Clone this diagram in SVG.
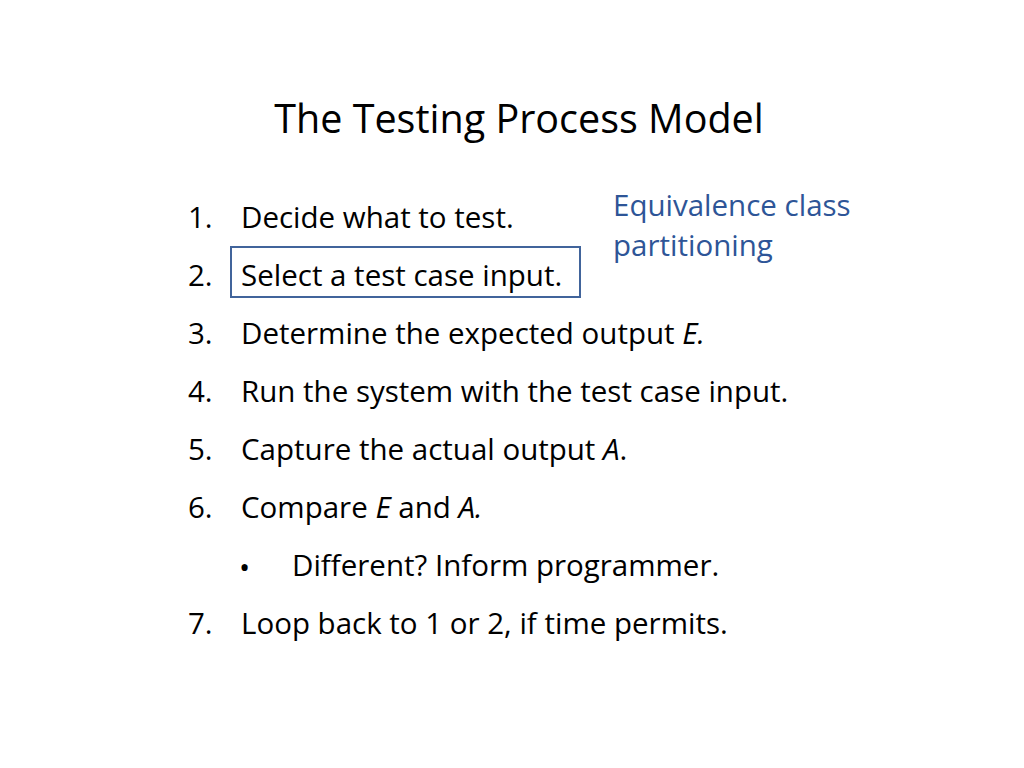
<svg xmlns="http://www.w3.org/2000/svg" width="1024" height="768" viewBox="0 0 1024 768">
<style>
text{font-family:"Open Sans","Liberation Sans",sans-serif;fill:#000}
.t{font-size:29.5px}
.b{font-size:29.5px;fill:#2e5597}
</style>
<rect width="1024" height="768" fill="#fff"/>
<text x="519" y="133" font-size="39.5" text-anchor="middle">The Testing Process Model</text>
<g id="list">
<text class="t" x="188" y="228">1.</text><text class="t" x="241" y="228">Decide what to test.</text>
<text class="t" x="188" y="286">2.</text><text class="t" x="241" y="286">Select a test case input.</text>
<text class="t" x="188" y="344">3.</text><text class="t" x="241" y="344">Determine the expected output <tspan font-style="italic">E.</tspan></text>
<text class="t" x="188" y="402">4.</text><text class="t" x="241" y="402">Run the system with the test case input.</text>
<text class="t" x="188" y="460">5.</text><text class="t" x="241" y="460">Capture the actual output <tspan font-style="italic">A</tspan>.</text>
<text class="t" x="188" y="518">6.</text><text class="t" x="241" y="518">Compare <tspan font-style="italic">E</tspan> and <tspan font-style="italic">A.</tspan></text>
<text class="t" x="239" y="578" font-size="34">•</text><text class="t" x="292" y="576">Different? Inform programmer.</text>
<text class="t" x="188" y="634">7.</text><text class="t" x="241" y="634">Loop back to 1 or 2, if time permits.</text>
</g>
<g id="box"><rect x="231" y="247" width="349" height="50" fill="none" stroke="#41649b" stroke-width="2"/></g>
<g id="note"><text class="b" x="613" y="216">Equivalence class</text><text class="b" x="613" y="256">partitioning</text></g>
</svg>
